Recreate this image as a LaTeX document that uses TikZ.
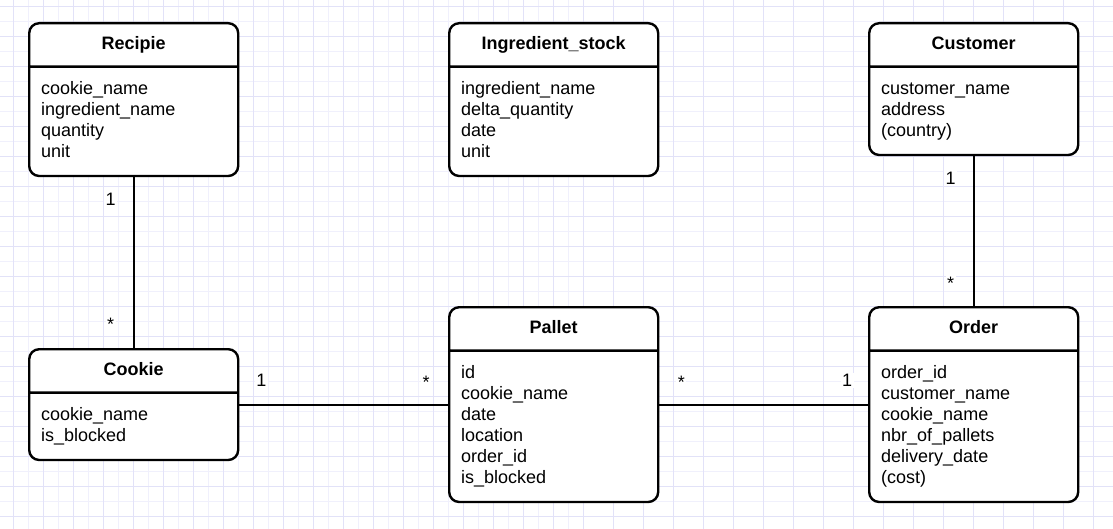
\documentclass[tikz,border=0pt]{standalone}
\usepackage{fontspec}
\setmainfont{Liberation Sans}
\usepackage{xcolor}
\usetikzlibrary{positioning,shapes.multipart}
\definecolor{gridMinor}{RGB}{240,240,252}
\definecolor{gridMajor}{RGB}{226,226,248}
\newcommand{\attrFont}{\fontsize{18}{21}\selectfont}
\newcommand{\topStrut}{\rule{0pt}{16.7pt}}
\newcommand{\botStrut}{\rule[-7.3pt]{0pt}{0pt}}

\begin{document}
\begin{tikzpicture}[
    x=1pt, y=-1pt,
    entity/.style={%
      draw,
      line width=2.4pt,
      rounded corners=10pt,
      fill=white,
      rectangle split,
      rectangle split parts=2,
      text width=185pt,
      inner xsep=12pt,
      inner ysep=10pt,
      anchor=north west,
      font=\attrFont,
    },
    link/.style={%
      draw,
      line width=2pt,
    },
    mult/.style={%
      fill=white,
      inner sep=1.5pt,
      font=\attrFont,
    },
  ]

    \useasboundingbox (0,0) rectangle (1113,529);
    \fill[white] (0,0) rectangle (1113,529);
    % grid
    \foreach \k in {0,...,37} {
      \draw[gridMinor, line width=1pt] ({13.3+15*\k},0) -- ({13.3+15*\k},529);
    }
    \foreach \k in {0,...,35} {
      \draw[gridMinor, line width=1pt] (0,{6.7+15*\k}) -- (1113,{6.7+15*\k});
    }
    \foreach \k in {0,...,36} {
      \draw[gridMajor, line width=1pt] ({13.3+30*\k},0) -- ({13.3+30*\k},529);
    }
    \foreach \k in {0,...,17} {
      \draw[gridMajor, line width=1pt] (0,{6.7+30*\k}) -- (1113,{6.7+30*\k});
    }

    % tables
    \node [entity] (recipe) at (28,22) {{\centering\bfseries\strut Recipie\par}%
      \nodepart{second}\topStrut cookie\_name\\ingredient\_name\\quantity\\unit\botStrut};
    \path (recipe.north west) ++(420,0) node [entity] (stock) {{\centering\bfseries\strut Ingredient\_stock\par}%
      \nodepart{second}\topStrut ingredient\_name\\delta\_quantity\\date\\unit\botStrut};
    \path (stock.north west) ++(420,0) node [entity] (customer) {{\centering\bfseries\strut Customer\par}%
      \nodepart{second}\topStrut customer\_name\\address\\(country)\botStrut};
    \path (recipe.north west) ++(0,326) node [entity] (cookie) {{\centering\bfseries\strut Cookie\par}%
      \nodepart{second}\topStrut cookie\_name\\is\_blocked\botStrut};
    \path (stock.north west) ++(0,284) node [entity] (pallet) {{\centering\bfseries\strut Pallet\par}%
      \nodepart{second}\topStrut id\\cookie\_name\\date\\location\\order\_id\\is\_blocked\botStrut};
    \path (customer.north west) ++(0,284) node [entity] (order) {{\centering\bfseries\strut Order\par}%
      \nodepart{second}\topStrut order\_id\\customer\_name\\cookie\_name\\nbr\_of\_pallets\\delivery\_date\\(cost)\botStrut};

    % relations
    \draw [link] (recipe.south) -- (cookie.north)
      node [mult, pos=0, xshift=-23pt, yshift=-22pt] {1}
      node [mult, pos=1, xshift=-23pt, yshift=24pt] {*};
    \draw [link] (cookie.east) -- (pallet.west)
      node [mult, pos=0, xshift=22pt, yshift=24pt] {1}
      node [mult, pos=1, xshift=-22pt, yshift=22pt] {*};
    \draw [link] (pallet.east) -- (order.west)
      node [mult, pos=0, xshift=22pt, yshift=22pt] {*}
      node [mult, pos=1, xshift=-21pt, yshift=24pt] {1};
    \draw [link] (customer.south) -- (order.north)
      node [mult, pos=0, xshift=-23pt, yshift=-22pt] {1}
      node [mult, pos=1, xshift=-23pt, yshift=23pt] {*};
\end{tikzpicture}
\end{document}
